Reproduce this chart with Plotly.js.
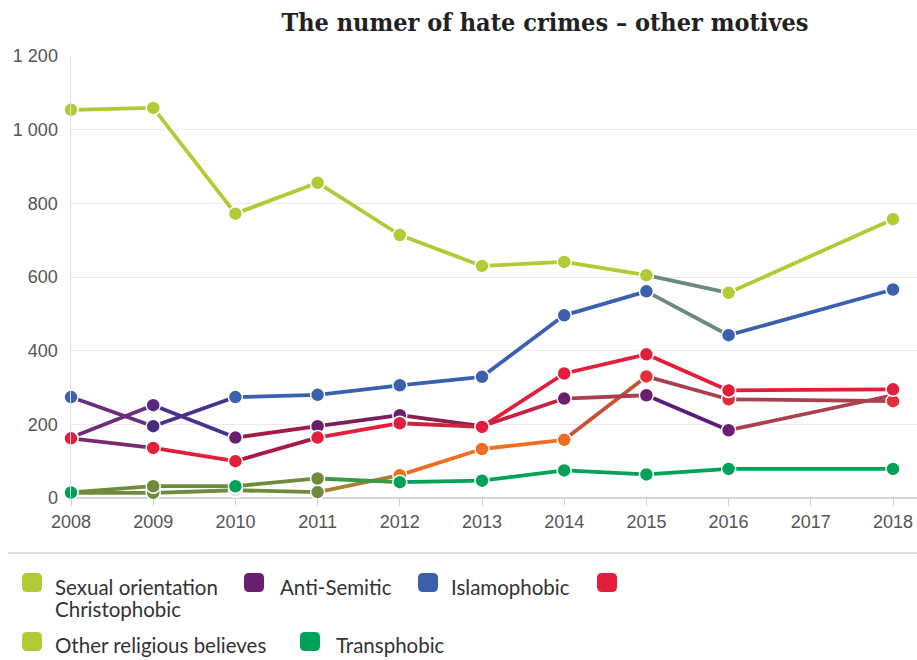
<!DOCTYPE html>
<html>
<head>
<meta charset="utf-8">
<script src="https://cdn.plot.ly/plotly-3.0.1.min.js"></script>
<style>html,body{margin:0;padding:0;background:#fff;}#chart{width:917px;height:660px;}</style>
</head>
<body>
<div id="chart"></div>
<script>
// ---------- DATA ----------
const years = [2008, 2009, 2010, 2011, 2012, 2013, 2014, 2015, 2016, 2018];
const xTicks = [2008, 2009, 2010, 2011, 2012, 2013, 2014, 2015, 2016, 2017, 2018];
const sexualOrientation = [1054, 1059, 772, 856, 714, 630, 641, 605, 557, 757];
const islamophobic      = [274, 195, 274, 280, 306, 329, 496, 561, 442, 566];
const antiSemitic       = [164, 252, 164, 195, 225, 195, 270, 279, 184, 279];
const christophobic     = [162, 136, 100, 164, 203, 193, 338, 390, 292, 295];
const otherReligious    = [14, 14, 21, 16, 62, 133, 158, 330, 268, 263];
const transphobic       = [15, 32, 32, 53, 43, 47, 75, 64, 79, 79];
const seriesNames = ["Sexual orientation", "Anti-Semitic", "Islamophobic", "Christophobic", "Other religious believes", "Transphobic"];

// ---------- STYLE ----------
const C = {
  so: '#b3c935', blue: '#3b60ae', purp: '#6a1f6e', red: '#e21e3a', green: '#00a25a',
  olive: '#6e8c3c', orange: '#f06e22', brown: '#a9404e', gray: '#6c8a80',
  mix: '#6b2e7e', indigo: '#48318f', dred: '#a51b45'
};
const series = [
  {y: otherReligious,
   seg: [C.olive, C.olive, C.olive, '#a88030', C.orange, C.orange, '#c85038', C.brown, C.brown],
   mk: [C.olive, C.olive, '#e4ecd8', C.olive, C.orange, C.orange, C.orange, '#e2303a', '#e2303a', '#e2303a'],
   ms: null},
  {y: transphobic,
   seg: [C.olive, C.olive, C.olive, '#3a9848', C.green, C.green, C.green, C.green, C.green],
   mk: [C.green, C.olive, C.green, C.olive, C.green, C.green, C.green, C.green, C.green, C.green],
   ms: null},
  {y: sexualOrientation,
   seg: [C.so, C.so, C.so, C.so, C.so, C.so, C.so, C.gray, C.so],
   mk: Array(10).fill(C.so), ms: null},
  {y: islamophobic,
   seg: [C.mix, C.indigo, C.blue, C.blue, C.blue, C.blue, C.blue, C.gray, C.blue],
   mk: [C.blue, '#4b2a82', C.blue, C.blue, C.blue, C.blue, C.blue, C.blue, C.blue, C.blue],
   ms: null},
  {y: antiSemitic,
   seg: [C.mix, C.indigo, C.dred, '#7a1f5e', '#8a2050', '#c82040', C.brown, '#5a1e78', C.brown],
   mk: [C.purp, '#5a2a82', C.purp, C.purp, C.purp, C.purp, C.purp, C.purp, C.purp, C.purp],
   ms: [14, 14, 14, 14, 14, 14, 14, 14, 14, 0]},
  {y: christophobic,
   seg: ['#7a2a6e', C.red, C.dred, C.red, '#d0203e', C.red, C.red, C.red, C.red],
   mk: Array(10).fill(C.red), ms: null}
];

const traces = [];
series.forEach(s => {
  for (let i = 0; i < years.length - 1; i++) {
    traces.push({
      type: 'scatter', mode: 'lines', x: [years[i], years[i + 1]], y: [s.y[i], s.y[i + 1]],
      line: {color: s.seg[i], width: 3.8}, showlegend: false, hoverinfo: 'skip', cliponaxis: false
    });
  }
});
series.forEach(s => {
  traces.push({
    type: 'scatter', mode: 'markers', x: years, y: s.y,
    marker: {color: s.mk, size: s.ms || 14, opacity: 1, line: {color: '#ffffff', width: 1.5}},
    showlegend: false, cliponaxis: false
  });
});

// pixel -> paper helpers (plot area: x 71..917, y 56..498)
const PL = 71, PR = 917, PT = 56, PB = 498;
const px = v => (v - PL) / (PR - PL);
const py = v => (PB - v) / (PB - PT);
function roundRect(x0, y0, x1, y1, r) {
  const X0 = px(x0), X1 = px(x1), Y0 = py(y0), Y1 = py(y1);
  const rx = r / (PR - PL), ry = r / (PB - PT);
  return `M${X0 + rx},${Y0} L${X1 - rx},${Y0} Q${X1},${Y0} ${X1},${Y0 - ry} L${X1},${Y1 + ry} Q${X1},${Y1} ${X1 - rx},${Y1} L${X0 + rx},${Y1} Q${X0},${Y1} ${X0},${Y1 + ry} L${X0},${Y0 - ry} Q${X0},${Y0} ${X0 + rx},${Y0} Z`;
}
const legendItems = [
  {sx: 22, sy: 573, tx: 54, ty: 587, color: C.so, text: seriesNames[0]},
  {sx: 244, sy: 573, tx: 279, ty: 587, color: C.purp, text: seriesNames[1]},
  {sx: 418, sy: 573, tx: 450, ty: 587, color: C.blue, text: seriesNames[2]},
  {sx: 597, sy: 573, tx: 54, ty: 609, color: C.red, text: seriesNames[3]},
  {sx: 22, sy: 632, tx: 54, ty: 645, color: C.so, text: seriesNames[4]},
  {sx: 300, sy: 632, tx: 335, ty: 645, color: C.green, text: seriesNames[5]}
];
const shapes = [{
  type: 'line', xref: 'paper', yref: 'paper', x0: px(8), x1: px(917), y0: py(553), y1: py(553),
  line: {color: '#dddddd', width: 2}
}];
const annotations = [];
legendItems.forEach(it => {
  shapes.push({type: 'path', xref: 'paper', yref: 'paper', path: roundRect(it.sx, it.sy, it.sx + 20, it.sy + 19, 5),
    fillcolor: it.color, line: {width: 0}});
  annotations.push({xref: 'paper', yref: 'paper', x: px(it.tx), y: py(it.ty), xanchor: 'left', yanchor: 'middle',
    text: it.text, showarrow: false, borderpad: 0,
    font: {family: 'Lato, Open Sans, sans-serif', size: 20.5, color: '#333'}});
});

const layout = {
  width: 917, height: 660,
  margin: {l: PL, r: 0, t: PT, b: 660 - PB},
  paper_bgcolor: '#fff', plot_bgcolor: '#fff',
  separators: '. ',
  title: {
    text: 'The numer of hate crimes – other motives',
    x: 545 / 917, xanchor: 'center', xref: 'container',
    y: 1 - 22 / 660, yanchor: 'middle', yref: 'container',
    font: {family: 'DejaVu Serif Condensed, DejaVu Serif, serif', size: 25, color: '#222', weight: 'bold'}
  },
  xaxis: {
    range: [2008, 2018 + (PR - 893) / 82.2], tickvals: xTicks, ticktext: xTicks.map(String),
    showgrid: false, zeroline: false, showline: false,
    ticks: 'outside', ticklen: 7, tickcolor: '#d0d0d0', tickwidth: 1,
    tickfont: {family: 'Liberation Sans, Arial, sans-serif', size: 18, color: '#555'}
  },
  yaxis: {
    range: [0, 1200], dtick: 200, tick0: 0, separatethousands: true,
    showgrid: true, gridcolor: '#ececec', gridwidth: 1,
    zeroline: true, zerolinecolor: '#d6d6d6', zerolinewidth: 1.5,
    showline: true, linecolor: '#e0e0e0', linewidth: 1.5,
    ticks: '', ticklabelstandoff: 8,
    tickfont: {family: 'Liberation Sans, Arial, sans-serif', size: 18, color: '#555'}
  },
  shapes: shapes,
  annotations: annotations
};

Plotly.newPlot('chart', traces, layout, {displayModeBar: false, staticPlot: true});
</script>
</body>
</html>
